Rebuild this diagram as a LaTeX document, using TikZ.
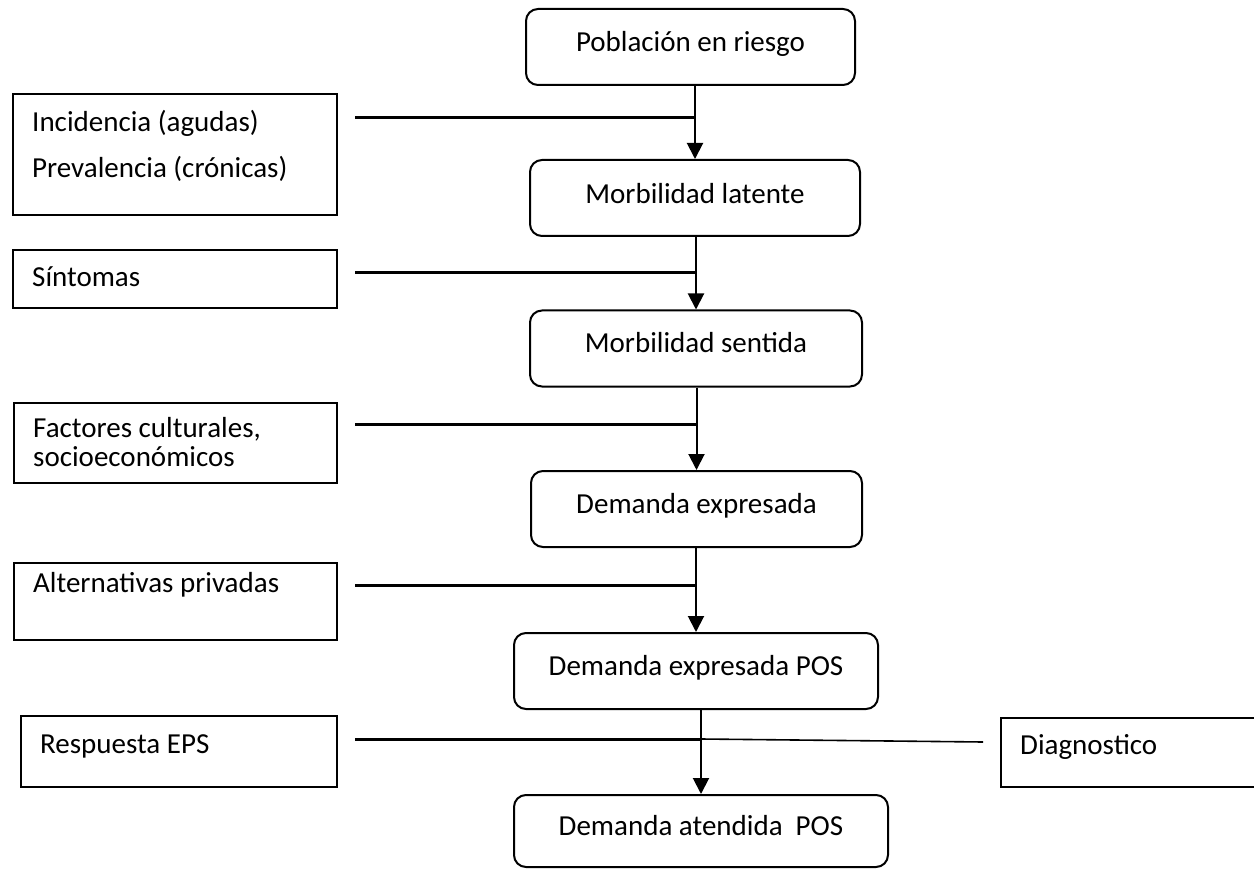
\documentclass[tikz,border=0pt]{standalone}
\usepackage{fontspec}
\setmainfont{Carlito}
\usetikzlibrary{arrows.meta}
\begin{document}
\begin{tikzpicture}[x=1pt,y=-1pt,
  cbox/.style={draw,line width=2pt,rounded corners=12pt,minimum height=76pt,inner sep=0pt,text height=20pt,text depth=12pt,font=\fontsize{29}{34}\selectfont},
  lbox/.style={draw,line width=2pt,inner sep=0pt,anchor=north west},
  ltext/.style={anchor=base west,inner sep=0pt,font=\fontsize{29}{34}\selectfont},
  conn/.style={line width=3pt},
  arr/.style={line width=2pt,-{Triangle[length=16pt,width=16pt]}}]
\useasboundingbox (0,0) rectangle (1254,869);
% central boxes
\node[cbox,minimum width=329pt,text height=21pt] (p1) at (690.5,47) {Población en riesgo};
\node[cbox,minimum width=330pt,text height=24pt] (p2) at (695,198) {Morbilidad latente};
\node[cbox,minimum width=332pt] (p3) at (696,348.5) {Morbilidad sentida};
\node[cbox,minimum width=331pt] (p4) at (696.5,509) {Demanda expresada};
\node[cbox,minimum width=364pt] (p5) at (696,671) {Demanda expresada POS};
\node[cbox,minimum width=374pt,minimum height=72pt] (p6) at (701,831) {Demanda atendida\ \ POS};
% left boxes
\node[lbox,minimum width=324pt,minimum height=121pt] (inc) at (12,93) {};
\node[ltext] (inct1) at (32,132) {Incidencia (agudas)};
\node[ltext] (inct2) at (32,178) {Prevalencia (crónicas)};
\node[lbox,minimum width=324pt,minimum height=58pt] (sin) at (12,249) {};
\node[ltext] (sint) at (32,287) {Síntomas};
\node[lbox,minimum width=323pt,minimum height=80pt] (fac) at (13,402) {};
\node[ltext] (fact1) at (33,437) {Factores culturales,};
\node[ltext] (fact2) at (33,466) {socioeconómicos};
\node[lbox,minimum width=323pt,minimum height=77pt] (alt) at (13,562) {};
\node[ltext] (altt) at (33,592) {Alternativas privadas};
\node[lbox,minimum width=316pt,minimum height=71pt] (res) at (20,715) {};
\node[ltext] (rest) at (40,753) {Respuesta EPS};
\node[lbox,minimum width=270pt,minimum height=69pt] (diag) at (1000,717) {};
\node[ltext] (diagt) at (1020,754) {Diagnostico};
% junction coordinates
\coordinate (s1) at (355,118); \coordinate (j1) at (p2.north |- s1);
\coordinate (s2) at (355,273); \coordinate (j2) at (p3.north |- s2);
\coordinate (s3) at (355,424); \coordinate (j3) at (p4.north |- s3);
\coordinate (s4) at (355,585); \coordinate (j4) at (p5.north |- s4);
\coordinate (s5) at (355,739); \coordinate (j5) at (p6.north |- s5);
\coordinate (e5) at (983,742);
% vertical arrows
\draw[arr] (p2.north |- p1.south) -- (p2.north);
\draw[arr] (p3.north |- p2.south) -- (p3.north);
\draw[arr] (p4.north |- p3.south) -- (p4.north);
\draw[arr] (p5.north |- p4.south) -- (p5.north);
\draw[arr] (p6.north |- p5.south) -- (p6.north);
% horizontal connectors
\draw[conn] (s1) -- (j1);
\draw[conn] (s2) -- (j2);
\draw[conn] (s3) -- (j3);
\draw[conn] (s4) -- (j4);
\draw[conn] (s5) -- (j5);
\draw[line width=1.6pt] (j5) -- (e5);
\end{tikzpicture}
\end{document}
